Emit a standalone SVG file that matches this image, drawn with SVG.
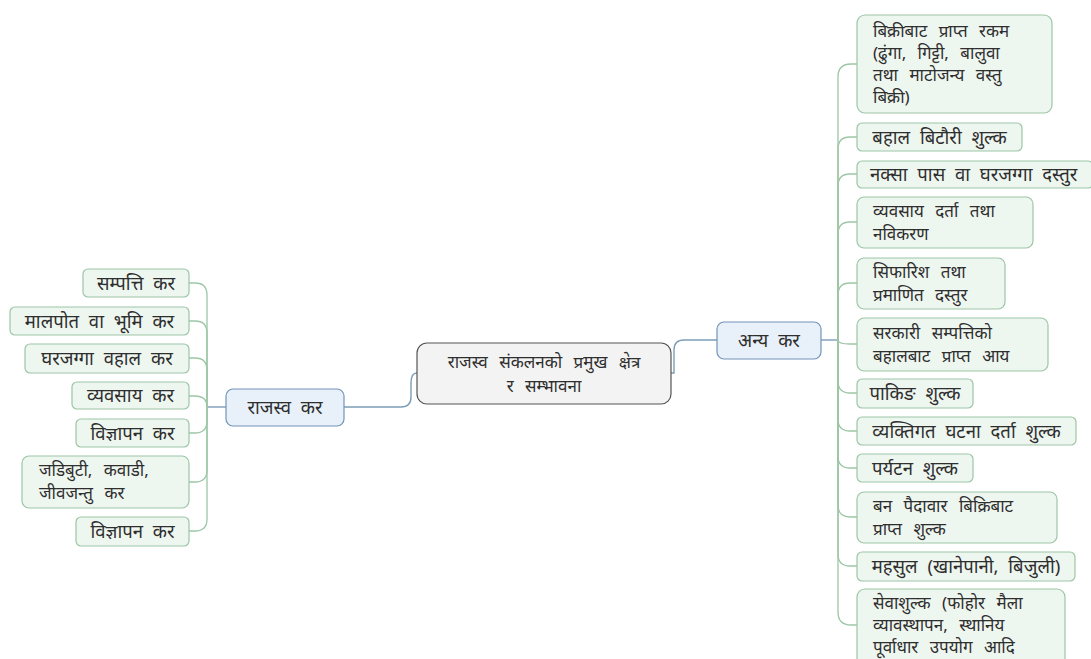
<svg xmlns="http://www.w3.org/2000/svg" width="1091" height="659" viewBox="0 0 1091 659">
<style>
text{font-family:"Noto Sans","Liberation Sans",sans-serif;font-size:17px;word-spacing:7px;fill:#2e2e2e}
.c{text-anchor:middle}
.s{font-size:18.5px;word-spacing:5px}
.leaf rect{fill:#eef6f0;stroke:#9cc6a6;stroke-width:1.2}
.l1 rect{fill:#e8f0f9;stroke:#7394b8;stroke-width:1.2}
.root rect{fill:#f3f3f3;stroke:#555;stroke-width:1.2}
.main{fill:none;stroke:#7d9db6;stroke-width:1.4}
.br{fill:none;stroke:#9cc6a6;stroke-width:1.3}
</style>
<rect width="1091" height="659" fill="#fff"/>
<g id="connectors">
<path class="main" d="M344 407 H401 Q411 407 411 397 V383 Q411 373 417 373"/>
<path class="main" d="M671 373 H674 V350 Q674 340 684 340 H717"/>
<path class="main" d="M226 407 H207"/>
<path class="main" d="M821 340 H838"/>
<path class="br" d="M207 407 V295 Q207 283 195 283 H189"/>
<path class="br" d="M207 407 V333 Q207 321 195 321 H189"/>
<path class="br" d="M207 407 V370 Q207 358 195 358 H189"/>
<path class="br" d="M207 407 Q207 396 195 396 H189"/>
<path class="br" d="M207 407 V421 Q207 433 195 433 H189"/>
<path class="br" d="M207 407 V470 Q207 482 195 482 H189"/>
<path class="br" d="M207 407 V519 Q207 531 195 531 H189"/>
<path class="br" d="M838 340 V77 Q838 64 851 64 H857"/>
<path class="br" d="M838 340 V149 Q838 137 850 137 H857"/>
<path class="br" d="M838 340 V186 Q838 174 850 174 H857"/>
<path class="br" d="M838 340 V234 Q838 222 850 222 H857"/>
<path class="br" d="M838 340 V295 Q838 283 850 283 H857"/>
<path class="br" d="M838 340 Q838 344 850 344 H857"/>
<path class="br" d="M838 340 V381 Q838 393 850 393 H857"/>
<path class="br" d="M838 340 V419 Q838 431 850 431 H857"/>
<path class="br" d="M838 340 V456 Q838 468 850 468 H857"/>
<path class="br" d="M838 340 V505 Q838 517 850 517 H857"/>
<path class="br" d="M838 340 V554 Q838 566 850 566 H857"/>
<path class="br" d="M838 340 V612 Q838 625 851 625 H857"/>
</g>
<g id="root" class="root"><rect x="417" y="343" width="254" height="61" rx="10"/><text class="c" x="544" y="368">राजस्व संकलनको प्रमुख क्षेत्र</text><text class="c" x="544" y="392">र सम्भावना</text></g>
<g id="rajaswa-kar" class="l1"><rect x="226" y="389" width="118" height="37" rx="7"/><text class="c s" x="285" y="414">राजस्व कर</text></g>
<g id="anya-kar" class="l1"><rect x="717" y="322" width="104" height="37" rx="7"/><text class="c s" x="769" y="347">अन्य कर</text></g>
<g id="l1" class="leaf"><rect x="83" y="269" width="106" height="28" rx="5"/><text class="c s" x="136" y="290">सम्पत्ति कर</text></g>
<g id="l2" class="leaf"><rect x="10" y="307" width="179" height="28" rx="5"/><text class="c s" x="99.5" y="328">मालपोत वा भूमि कर</text></g>
<g id="l3" class="leaf"><rect x="25" y="344" width="164" height="29" rx="5"/><text class="c s" x="107" y="365">घरजग्गा वहाल कर</text></g>
<g id="l4" class="leaf"><rect x="72" y="382" width="117" height="27" rx="5"/><text class="c s" x="130.5" y="402">व्यवसाय कर</text></g>
<g id="l5" class="leaf"><rect x="76" y="419" width="113" height="28" rx="5"/><text class="c s" x="132.5" y="440">विज्ञापन कर</text></g>
<g id="l6" class="leaf"><rect x="22" y="456" width="167" height="52" rx="7"/><text x="39" y="476">जडिबुटी, कवाडी,</text><text x="39" y="499">जीवजन्तु कर</text></g>
<g id="l7" class="leaf"><rect x="76" y="517" width="113" height="29" rx="5"/><text class="c s" x="132.5" y="538">विज्ञापन कर</text></g>
<g id="r1" class="leaf"><rect x="857" y="15" width="195" height="98" rx="8"/><text x="873" y="37">बिक्रीबाट प्राप्त रकम</text><text x="873" y="59">(ढुंगा, गिट्टी, बालुवा</text><text x="873" y="81">तथा माटोजन्य वस्तु</text><text x="873" y="103">बिक्री)</text></g>
<g id="r2" class="leaf"><rect x="857" y="123" width="165" height="28" rx="5"/><text class="c s" x="939.5" y="144">बहाल बिटौरी शुल्क</text></g>
<g id="r3" class="leaf"><rect x="857" y="161" width="236" height="27" rx="5"/><text class="s" x="870" y="181">नक्सा पास वा घरजग्गा दस्तुर</text></g>
<g id="r4" class="leaf"><rect x="857" y="197" width="176" height="51" rx="7"/><text x="873" y="217">व्यवसाय दर्ता तथा</text><text x="873" y="240">नविकरण</text></g>
<g id="r5" class="leaf"><rect x="857" y="258" width="148" height="51" rx="7"/><text x="873" y="278">सिफारिश तथा</text><text x="873" y="301">प्रमाणित दस्तुर</text></g>
<g id="r6" class="leaf"><rect x="857" y="318" width="191" height="53" rx="7"/><text x="873" y="339">सरकारी सम्पत्तिको</text><text x="873" y="362">बहालबाट प्राप्त आय</text></g>
<g id="r7" class="leaf"><rect x="857" y="379" width="116" height="29" rx="5"/><text class="c s" x="915" y="400">पाकिङ शुल्क</text></g>
<g id="r8" class="leaf"><rect x="857" y="417" width="219" height="28" rx="5"/><text class="c s" x="966.5" y="438">व्यक्तिगत घटना दर्ता शुल्क</text></g>
<g id="r9" class="leaf"><rect x="857" y="454" width="116" height="28" rx="5"/><text class="c s" x="915" y="475">पर्यटन शुल्क</text></g>
<g id="r10" class="leaf"><rect x="857" y="492" width="200" height="51" rx="7"/><text x="873" y="512">बन पैदावार बिक्रिबाट</text><text x="873" y="535">प्राप्त शुल्क</text></g>
<g id="r11" class="leaf"><rect x="857" y="552" width="218" height="29" rx="5"/><text class="c s" x="966" y="573">महसुल (खानेपानी, बिजुली)</text></g>
<g id="r12" class="leaf"><rect x="857" y="589" width="208" height="78" rx="8"/><text x="873" y="609">सेवाशुल्क (फोहोर मैला</text><text x="873" y="631">व्यावस्थापन, स्थानिय</text><text x="873" y="653">पूर्वाधार उपयोग आदि</text></g>
</svg>
